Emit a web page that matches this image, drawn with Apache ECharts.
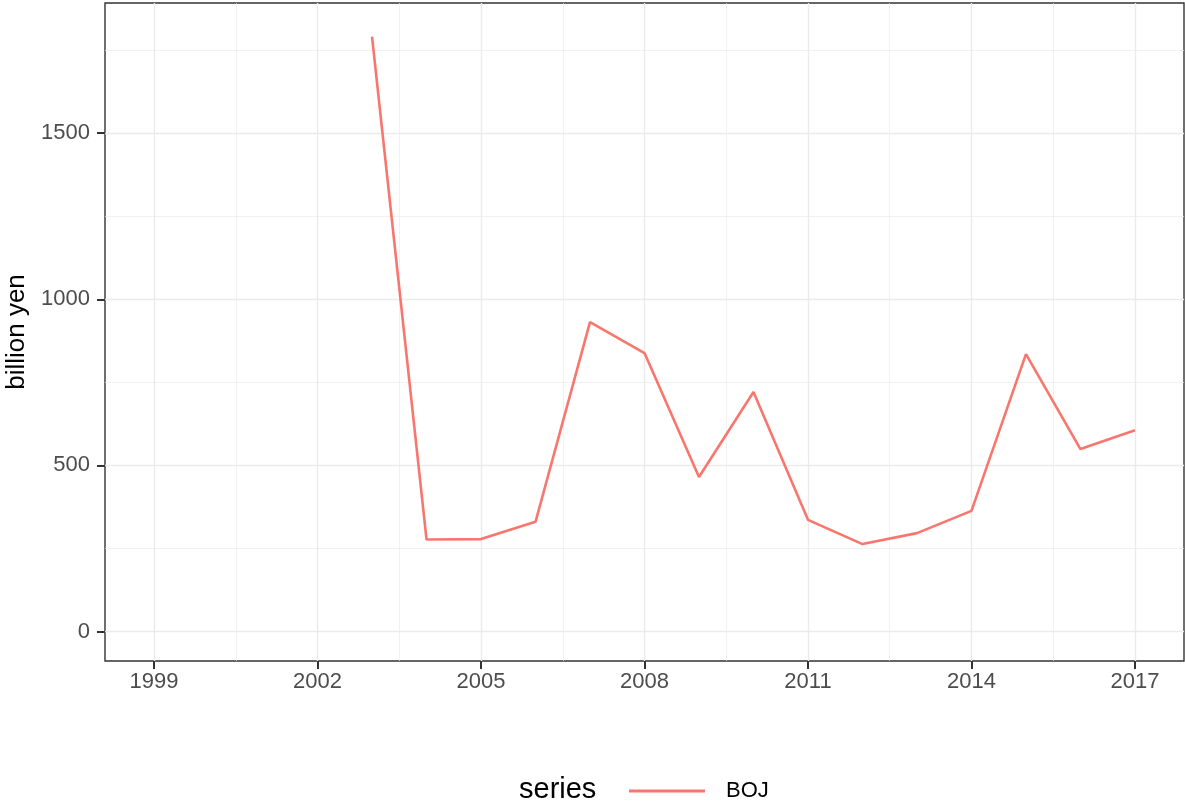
<!DOCTYPE html>
<html><head><meta charset="utf-8">
<script src="https://cdn.jsdelivr.net/npm/echarts@6/dist/echarts.min.js"></script>
<style>html,body{margin:0;padding:0;background:#fff}#c{width:1185px;height:803px}</style>
</head><body><div id="c"></div>
<script>
const years = [1999,2000,2001,2002,2003,2004,2005,2006,2007,2008,2009,2010,2011,2012,2013,2014,2015,2016,2017];
const boj = [null,null,null,null,1791,277,278,330,931,838,465,721,336,263,296,363,835,549,606];
const xTicks = [1999,2002,2005,2008,2011,2014,2017];
const xMinor = [2000.5,2003.5,2006.5,2009.5,2012.5,2015.5];
const yTicks = [0,500,1000,1500];
const yMinor = [250,750,1250,1750];
const seriesName = 'BOJ';

const font = 'Liberation Sans, Arial, Helvetica, sans-serif';
const chart = echarts.init(document.getElementById('c'), null, {renderer:'canvas'});
const gridLineMajor = {show:true, lineStyle:{color:'#EBEBEB', width:1.4}};
const gridLineMinor = {show:true, lineStyle:{color:'#EBEBEB', width:0.7}};
chart.setOption({
  animation:false,
  backgroundColor:'#fff',
  grid:{left:105, right:1, top:3, bottom:142, show:true, borderColor:'#333', borderWidth:1.4,
        backgroundColor:'transparent', containLabel:false, outerBoundsMode:'none'},
  legend:{
    data:[seriesName], left:624, top:775, icon:'rect', itemWidth:76, itemHeight:3, itemGap:0,
    textStyle:{fontFamily:font, fontSize:22, lineHeight:22, color:'#000', padding:[0,0,0,16]}
  },
  graphic:[{type:'text', x:519, y:790, style:{text:'series', font:'29px '+font, fill:'#000', verticalAlign:'middle'}}],
  xAxis:[
    {type:'value', min:1998.1, max:2017.9, gridIndex:0, position:'bottom',
     axisLine:{show:false, onZero:false},
     axisTick:{show:true, inside:false, customValues:xTicks, length:8, lineStyle:{color:'#333333', width:2}},
     axisLabel:{show:true, customValues:xTicks, formatter:v=>String(v), fontFamily:font, fontSize:22, color:'#4D4D4D', margin:10},
     splitLine:gridLineMajor},
    {type:'value', min:1998.1, max:2017.9, gridIndex:0, position:'bottom',
     axisLine:{show:false, onZero:false}, axisTick:{show:false, customValues:xMinor},
     axisLabel:{show:false, customValues:xMinor},
     splitLine:gridLineMinor}
  ],
  yAxis:[
    {type:'value', min:-89, max:1892, gridIndex:0, position:'left',
     name:'billion yen', nameLocation:'middle', nameGap:75, nameRotate:90,
     nameTextStyle:{fontFamily:font, fontSize:26, color:'#000'},
     axisLine:{show:false},
     axisTick:{show:true, inside:false, customValues:yTicks, length:8, lineStyle:{color:'#333333', width:2}},
     axisLabel:{show:true, customValues:yTicks, formatter:v=>String(v), fontFamily:font, fontSize:22, color:'#4D4D4D', margin:15},
     splitLine:gridLineMajor},
    {type:'value', min:-89, max:1892, gridIndex:0, position:'left',
     axisLine:{show:false}, axisTick:{show:false, customValues:yMinor},
     axisLabel:{show:false, customValues:yMinor},
     splitLine:gridLineMinor}
  ],
  series:[{
    name:seriesName, type:'line', xAxisIndex:0, yAxisIndex:0,
    data:years.map((y,i)=>[y,boj[i]]),
    showSymbol:false, symbol:'none', connectNulls:false,
    lineStyle:{color:'#F8766D', width:2.6}, itemStyle:{color:'#F8766D'}, z:5
  }]
});
</script></body></html>
